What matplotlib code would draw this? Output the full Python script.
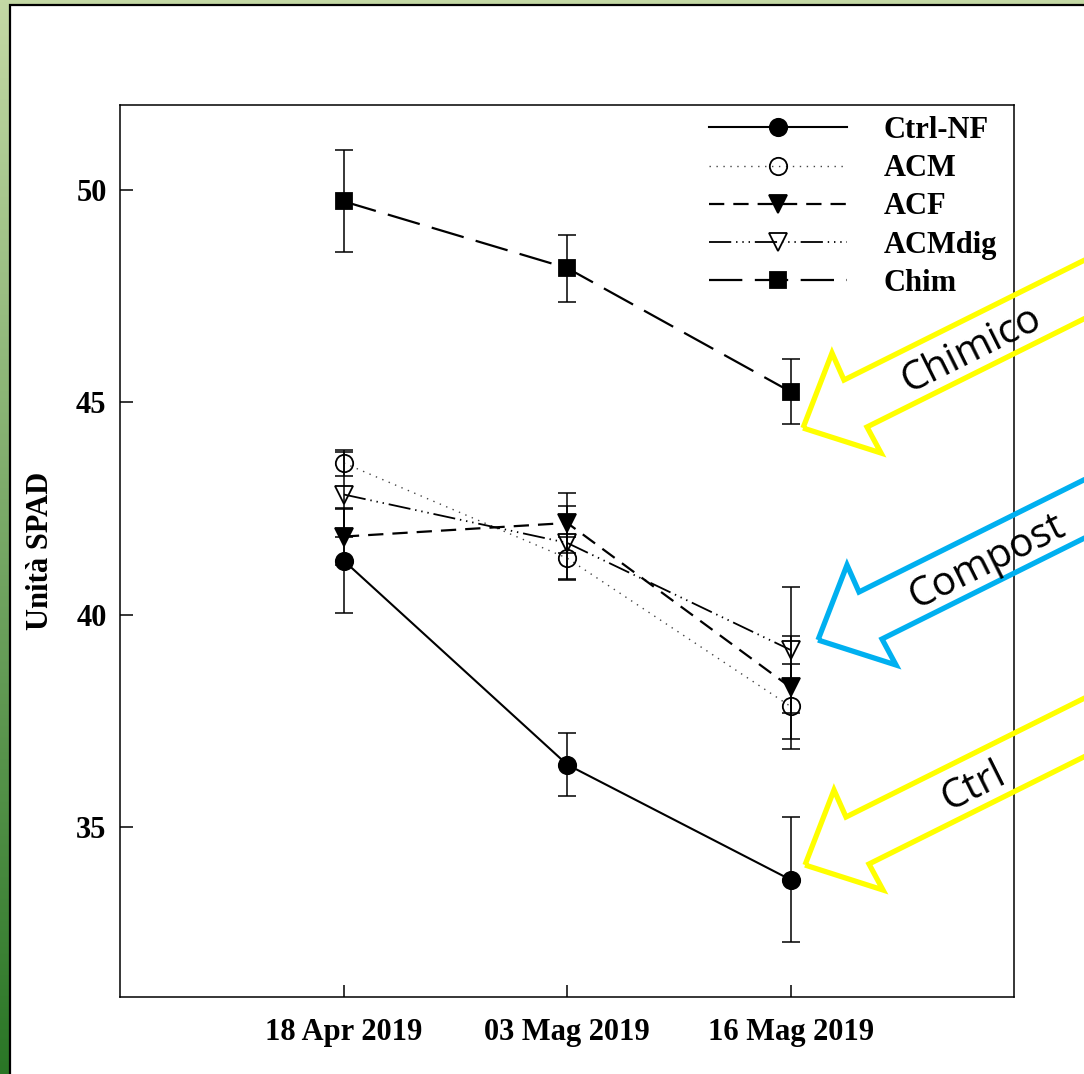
import numpy as np
import matplotlib
matplotlib.use('Agg')
import matplotlib.pyplot as plt
from matplotlib.patches import Polygon, Rectangle

W, H = 1084, 1074

# SPAD readings (mean and error) per sampling date
dates = ['18 Apr 2019', '03 Mag 2019', '16 Mag 2019']
ctrl_nf = [41.27, 36.47, 33.76]
ctrl_nf_err = [1.24, 0.74, 1.47]
acm = [43.57, 41.33, 37.84]
acm_err = [0.30, 0.50, 1.00]
acf = [41.84, 42.16, 38.29]
acf_err = [0.66, 0.71, 1.22]
acmdig = [42.83, 41.69, 39.17]
acmdig_err = [1.00, 0.88, 1.49]
chim = [49.73, 48.16, 45.25]
chim_err = [1.20, 0.79, 0.77]

# callout arrows: label, colour, tip position in pixels (from top-left)
arrow_labels = ['Chimico', 'Compost', 'Ctrl']
arrow_colors = ['#ffff00', '#00b0f0', '#ffff00']
arrow_tips = [(803, 428), (818, 640), (805, 865)]

plt.rcParams['font.family'] = 'Liberation Serif'
plt.rcParams['font.weight'] = 'bold'
plt.rcParams['lines.scale_dashes'] = False


def fig_xy(x, y):
    return (x / W, 1 - y / H)


fig = plt.figure(figsize=(W / 100, H / 100), dpi=100)

# green gradient backdrop and white panel
bg = fig.add_axes([0, 0, 1, 1], zorder=-10)
bg.axis('off')
top_col = np.array([196, 217, 165]) / 255
bot_col = np.array([42, 118, 38]) / 255
t = np.linspace(0, 1, 256)[:, None, None]
grad = top_col * (1 - t) + bot_col * t
bg.imshow(grad, aspect='auto', extent=[0, 1, 0, 1], interpolation='bilinear')
bg.set_xlim(0, 1)
bg.set_ylim(0, 1)
x0, y0 = fig_xy(10, 5)
bg.add_patch(Rectangle((x0, -0.1), 1.2, y0 + 0.1, facecolor='white',
                       edgecolor='black', linewidth=1.6, transform=bg.transAxes))

ax = fig.add_axes([120.5 / W, 77 / H, 893.5 / W, 892 / H])
x = np.arange(1, len(dates) + 1)

series = [
    ('Ctrl-NF', ctrl_nf, ctrl_nf_err, dict(linestyle='-', marker='o', markersize=12.5,
                                            mfc='black', linewidth=1.5)),
    ('ACM', acm, acm_err, dict(linestyle=(0, (1, 4)), marker='o', markersize=12.5,
                               mfc='none', linewidth=1.0, color='#444444', mec='black')),
    ('ACF', acf, acf_err, dict(linestyle=(0, (11, 6.5)), marker='v', markersize=13,
                               mfc='black', linewidth=1.6)),
    ('ACMdig', acmdig, acmdig_err, dict(linestyle=(0, (16, 3.5, 1, 3.5, 1, 3.5, 1, 3.5)),
                                        marker='v', markersize=13, mfc='none', linewidth=1.3)),
    ('Chim', chim, chim_err, dict(linestyle=(0, (24, 9)), marker='s', markersize=12,
                                  mfc='black', linewidth=1.6)),
]

handles = []
for name, vals, errs, style in series:
    ax.errorbar(x, vals, yerr=errs, fmt='none', ecolor='black', elinewidth=1.1,
                capsize=6.5, capthick=1.1)
    style.setdefault('color', 'black')
    style.setdefault('mec', 'black')
    line, = ax.plot(x, vals, label=name, markeredgewidth=1.3, **style)
    handles.append(line)

ax.set_xlim(0, 4)
ax.set_ylim(31, 52)
ax.set_xticks(x)
ax.set_xticklabels(dates)
ax.set_yticks([35, 40, 45, 50])
ax.tick_params(direction='in', length=9, width=1.1, labelsize=22)
ax.tick_params(axis='x', pad=15)
ax.tick_params(axis='y', pad=10)
for sp in ax.spines.values():
    sp.set_linewidth(1.1)
ax.set_ylabel('Unità SPAD', fontsize=22, fontweight='bold')
ax.yaxis.set_label_coords(-0.073, 0.5)

ax.legend(handles=handles, loc='upper left', bbox_to_anchor=(0.659, 0.9875),
          frameon=False, fontsize=22, handlelength=4.5, handletextpad=1.2,
          labelspacing=0.30, borderpad=0, borderaxespad=0, numpoints=1)

# hollow callout arrows pointing at the last sampling date
ang = np.deg2rad(26.5)
d = np.array([np.cos(ang), -np.sin(ang)])
inner_up = np.array([41, -48])
inner_lo = np.array([64, -1])
shape = [np.array([0, 0]), np.array([29, -75]), inner_up, inner_up + 400 * d,
         inner_lo + 400 * d, inner_lo, np.array([78, 25])]
for label, col, (tx, ty) in zip(arrow_labels, arrow_colors, arrow_tips):
    pts = [fig_xy(tx + p[0], ty + p[1]) for p in shape]
    fig.add_artist(Polygon(pts, closed=True, fill=False, edgecolor=col,
                           linewidth=3.8, joinstyle='miter',
                           transform=fig.transFigure))
    cx, cy = fig_xy(tx + 169, ty - 78)
    fig.text(cx, cy, label, rotation=26.5, rotation_mode='anchor', ha='center',
             va='center', fontsize=29, fontweight='normal', family='Open Sans',
             color='black')

fig.savefig('out.png', dpi=100)
